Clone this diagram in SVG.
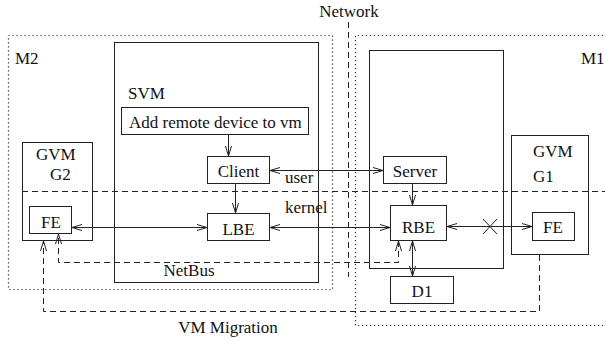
<svg xmlns="http://www.w3.org/2000/svg" width="605" height="341" viewBox="0 0 605 341">
<style>
text{font-family:"Liberation Serif","Times New Roman",serif;font-size:17px;fill:#111}
.b{fill:none;stroke:#222;stroke-width:1}
.dot{fill:none;stroke:#333;stroke-width:1.2;stroke-dasharray:1.2,2.8}
.dash{fill:none;stroke:#222;stroke-width:1;stroke-dasharray:6,4}
.c{fill:none;stroke:#222;stroke-width:1}
</style>
<defs>
<marker id="ah" markerUnits="userSpaceOnUse" viewBox="0 0 10 8" refX="10" refY="4" markerWidth="10" markerHeight="8" orient="auto-start-reverse">
<path d="M0,1 L10,4 L0,7" fill="none" stroke="#222" stroke-width="1"/>
</marker>
</defs>
<rect width="605" height="341" fill="#fff"/>
<g id="M2"><rect class="dot" x="8.5" y="35.5" width="324" height="254"/><text x="15" y="64">M2</text></g>
<g id="M1"><path class="dot" d="M607,35.5 H355.5 V325.5 H607"/><text x="581" y="64">M1</text></g>
<g id="Network"><text x="349" y="17" text-anchor="middle">Network</text></g>
<g id="SVM"><rect class="b" x="114.5" y="42.5" width="204" height="240"/><text x="128" y="99">SVM</text></g>
<g id="AddRemote"><rect class="b" x="121.5" y="107.5" width="187" height="27"/><text x="129" y="128">Add remote device to vm</text></g>
<g id="Client"><rect class="b" x="207.5" y="156.5" width="62" height="27"/><text x="238.5" y="177" text-anchor="middle">Client</text></g>
<g id="LBE"><rect class="b" x="207.5" y="213.5" width="62" height="27"/><text x="238.5" y="235" text-anchor="middle">LBE</text></g>
<g id="HostM1"><rect class="b" x="369.5" y="50.5" width="134" height="218"/></g>
<g id="Server"><rect class="b" x="383.5" y="156.5" width="63" height="27"/><text x="415" y="177" text-anchor="middle">Server</text></g>
<g id="RBE"><rect class="b" x="390.5" y="205.5" width="56" height="35"/><text x="418.5" y="233" text-anchor="middle">RBE</text></g>
<g id="D1"><rect class="b" x="390.5" y="276.5" width="63" height="27"/><text x="422" y="297" text-anchor="middle">D1</text></g>
<g id="GVM2"><rect class="b" x="22.5" y="142.5" width="70" height="98"/><text x="36" y="160">GVM</text><text x="50" y="180">G2</text></g>
<g id="FE2"><rect class="b" x="29.5" y="206.5" width="42" height="27"/><text x="51" y="228" text-anchor="middle">FE</text></g>
<g id="GVM1"><rect class="b" x="511.5" y="135.5" width="77" height="119"/><text x="533" y="157">GVM</text><text x="533" y="182">G1</text></g>
<g id="FE1"><rect class="b" x="532.5" y="212.5" width="42" height="28"/><text x="553" y="233" text-anchor="middle">FE</text></g>
<g id="connectors">
<path class="dash" d="M348.5,22 V277"/>
<path class="dash" d="M22,191.5 H605"/>
<path class="c" d="M228.5,134 V156" marker-end="url(#ah)"/>
<path class="c" d="M235.5,184 V213" marker-end="url(#ah)"/>
<path class="c" d="M270,170.5 H383" marker-start="url(#ah)" marker-end="url(#ah)"/>
<path class="c" d="M412.5,184 V205" marker-end="url(#ah)"/>
<path class="c" d="M72,227.5 H207" marker-start="url(#ah)" marker-end="url(#ah)"/>
<path class="c" d="M270,227.5 H390" marker-start="url(#ah)" marker-end="url(#ah)"/>
<path class="c" d="M447,226.5 H532" marker-start="url(#ah)" marker-end="url(#ah)"/>
<path class="c" d="M483,219 L497,234 M483,234 L497,219"/>
<path class="c" d="M412.5,241 V276" marker-start="url(#ah)" marker-end="url(#ah)"/>
<path class="dash" d="M398.5,241 V262.5 H58.5 V234" marker-start="url(#ah)" marker-end="url(#ah)"/>
<path class="dash" d="M539.5,255 V311.5 H43.5 V241" marker-end="url(#ah)"/>
<text x="285" y="183">user</text>
<text x="285" y="213">kernel</text>
<text x="189" y="276" text-anchor="middle">NetBus</text>
<text x="228" y="333" text-anchor="middle">VM Migration</text>
</g>
</svg>
